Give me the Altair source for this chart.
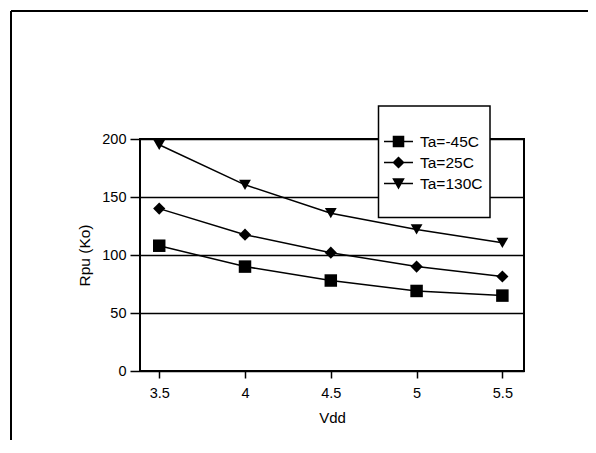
import altair as alt
import pandas as pd

vdd = [3.5, 4, 4.5, 5, 5.5]
series_names = ["Ta=-45C", "Ta=25C", "Ta=130C"]
ta_m45 = [108, 90, 78, 69, 65]
ta_25 = [140, 117.5, 102, 90, 81.5]
ta_130 = [195, 160.5, 136, 122, 110.5]
y_ticks = [0, 50, 100, 150, 200]

rows = []
for name, vals in zip(series_names, [ta_m45, ta_25, ta_130]):
    for v, r in zip(vdd, vals):
        rows.append({"Vdd": v, "Rpu": r, "series": name})
df = pd.DataFrame(rows)

FONT = "Liberation Sans"

xenc = alt.X("Vdd:Q",
             scale=alt.Scale(domain=[3.388, 5.626], nice=False, zero=False),
             axis=alt.Axis(values=vdd, format="~g", title="Vdd", grid=False,
                           domain=False, tickSize=7, tickWidth=1.5, tickColor="black",
                           labelPadding=8, labelFontSize=14.5, labelFont=FONT,
                           labelColor="black", titleFont=FONT, titleFontSize=15,
                           titleFontWeight="normal", titleColor="black",
                           titlePadding=11))
yenc = alt.Y("Rpu:Q",
             scale=alt.Scale(domain=[0, 200], nice=False),
             axis=alt.Axis(values=y_ticks, title="Rpu (Ko)", grid=True,
                           gridColor="black", gridWidth=1.5, gridOpacity=1,
                           domain=False, tickSize=10, tickWidth=1.5, tickColor="black",
                           labelPadding=4, labelFontSize=14.5, labelFont=FONT,
                           labelColor="black", titleFont=FONT, titleFontSize=15.5,
                           titleFontWeight="normal", titleColor="black",
                           titlePadding=9))

base = alt.Chart(df)

# legend frame (white box with black border)
box = alt.Chart(alt.Data(values=[{}])).mark_rect(
    fill="white", stroke="black", strokeWidth=1.5
).encode(x=alt.value(238.5), x2=alt.value(350), y=alt.value(-33), y2=alt.value(78.5))

lines = base.mark_line(color="black", strokeWidth=1.5).encode(
    x=xenc, y=yenc,
    detail=alt.Detail("series:N"),
    order=alt.Order("Vdd:Q"),
)

points = base.mark_point(filled=True, color="black", opacity=1).encode(
    x=xenc, y=yenc,
    shape=alt.Shape("series:N", sort=series_names,
                    scale=alt.Scale(domain=series_names,
                                    range=["square", "diamond", "triangle-down"]),
                    legend=None),
    size=alt.Size("series:O", sort=series_names,
                  scale=alt.Scale(domain=series_names, range=[156, 140, 180]),
                  legend=None),
)

# legend glyphs: a short line (thin filled bar) with the marker on it
legend_paths = [
    "M-1.38,-0.07H1.38V0.07H-1.38ZM-0.55,-0.55H0.55V0.55H-0.55Z",
    "M-1.38,-0.07H1.38V0.07H-1.38ZM-0.58,0L0,-0.58L0.58,0L0,0.58Z",
    "M-1.38,-0.07H1.38V0.07H-1.38ZM-0.6,-0.5H0.6L0,0.56Z",
]

legend_layer = base.mark_point(filled=True, color="black", opacity=0).encode(
    x=xenc, y=yenc,
    shape=alt.Shape("series:N", sort=series_names,
                    scale=alt.Scale(domain=series_names, range=legend_paths),
                    legend=alt.Legend(title=None, orient="none", legendX=248, legendY=-8,
                                      padding=0, symbolSize=441, symbolStrokeWidth=0,
                                      symbolFillColor="black",
                                      symbolOpacity=1, labelFont=FONT, labelFontSize=15.5,
                                      labelColor="black", labelOffset=11, rowPadding=2)),
)

top_border = alt.Chart(alt.Data(values=[{}])).mark_rule(color="black", strokeWidth=2).encode(
    x=alt.value(-129), x2=alt.value(448), y=alt.value(-128))
left_border = alt.Chart(alt.Data(values=[{}])).mark_rule(color="black", strokeWidth=2).encode(
    x=alt.value(-129), y=alt.value(-128), y2=alt.value(305))

chart = alt.layer(box, lines, points, legend_layer, top_border, left_border).resolve_scale(
    shape="independent", size="independent"
).properties(
    width=384, height=232,
    autosize=alt.AutoSizeParams(type="none"),
    padding={"left": 132, "top": 131, "right": 64, "bottom": 69},
    background="white",
).configure_view(stroke="black", strokeWidth=2)

chart.save("out.html", embed_options={"renderer": "svg", "actions": False})
